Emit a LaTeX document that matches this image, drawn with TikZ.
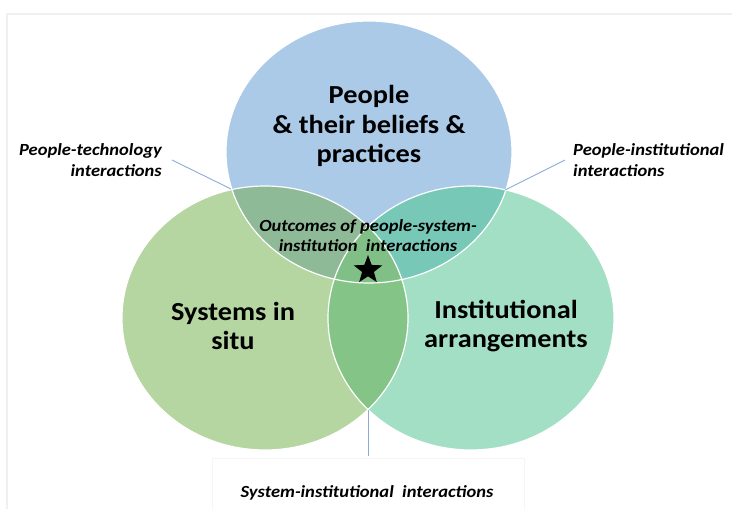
\documentclass[tikz,border=0pt]{standalone}
\usepackage{fontspec}
\setmainfont{Carlito}[FakeStretch=1.09]
\usetikzlibrary{shapes.geometric}
\definecolor{peopleblue}{HTML}{ABCAE8}
\definecolor{systemgreen}{HTML}{B5D5A1}
\definecolor{institgreen}{HTML}{A3DFC5}
\definecolor{psoverlap}{HTML}{8FBA97}
\definecolor{pioverlap}{HTML}{78C8B7}
\definecolor{sioverlap}{HTML}{85C487}
\definecolor{alloverlap}{HTML}{80BF86}
\definecolor{leadline}{HTML}{8EAADB}
\begin{document}
\begin{tikzpicture}[x=1pt,y=-1pt,
  bigtext/.style={font=\fontsize{26}{29.5}\selectfont\bfseries, align=center, inner sep=0pt},
  smalltext/.style={font=\fontsize{17}{21}\selectfont\bfseries\itshape, inner sep=0pt},
  lead/.style={draw=leadline, line width=0.9pt}]
\useasboundingbox (0,0) rectangle (732,509);
% faint frames
\draw[black!6, line width=2pt] (7,509) -- (7,14) -- (732,14);
\draw[black!4, line width=1pt] (212,509) -- (212,458) -- (524,458) -- (524,509);

% the three sets
\fill[peopleblue] (369,152) ellipse [x radius=143, y radius=131];
\fill[systemgreen] (265,318) ellipse [x radius=143, y radius=132];
\fill[institgreen] (471,318) ellipse [x radius=143, y radius=132];

% overlaps
\begin{scope}
\clip (265,318) ellipse [x radius=143, y radius=132];
\fill[sioverlap] (471,318) ellipse [x radius=143, y radius=132];
\end{scope}
\begin{scope}
\clip (369,152) ellipse [x radius=143, y radius=131];
\fill[psoverlap] (265,318) ellipse [x radius=143, y radius=132];
\fill[pioverlap] (471,318) ellipse [x radius=143, y radius=132];
\clip (265,318) ellipse [x radius=143, y radius=132];
\fill[alloverlap] (471,318) ellipse [x radius=143, y radius=132];
\end{scope}

\draw[white, line width=1.2pt] (369,152) ellipse [x radius=143, y radius=131];
\draw[white, line width=1.2pt] (265,318) ellipse [x radius=143, y radius=132];
\draw[white, line width=1.2pt] (471,318) ellipse [x radius=143, y radius=132];

% set names
\node[bigtext] (people) at (369,126) {People\\\& their beliefs \&\\practices};
\node[bigtext] (systems) at (233,326) {Systems in\\situ};
\node[bigtext] (institutions) at (506,326) {Institutional\\arrangements};

% centre
\node[smalltext, align=center, font=\fontsize{17}{20}\selectfont\bfseries\itshape] (outcomes) at (368,236) {Outcomes of people-system-\\institution\ \ interactions};
\node[star, star points=5, star point ratio=2.4, minimum size=30pt, inner sep=0pt, fill=black] (mark) at (368,270) {};

% interaction labels
\node[smalltext, align=right, anchor=east] (ptlabel) at (162,160) {People-technology\\interactions};
\node[smalltext, align=left, anchor=west] (pilabel) at (573,160) {People-institutional\\interactions};
\node[smalltext] (silabel) at (367,493) {System-institutional\ \ interactions};

\coordinate (ptfoot) at (172,160);
\coordinate (ptmeet) at (231,189);
\coordinate (pifoot) at (565,160);
\coordinate (pimeet) at (505,190);
\coordinate (simeet) at (368,410);
\coordinate (sifoot) at (368,456);
\draw[lead] (ptfoot) -- (ptmeet);
\draw[lead] (pifoot) -- (pimeet);
\draw[lead] (simeet) -- (sifoot);
\end{tikzpicture}
\end{document}
